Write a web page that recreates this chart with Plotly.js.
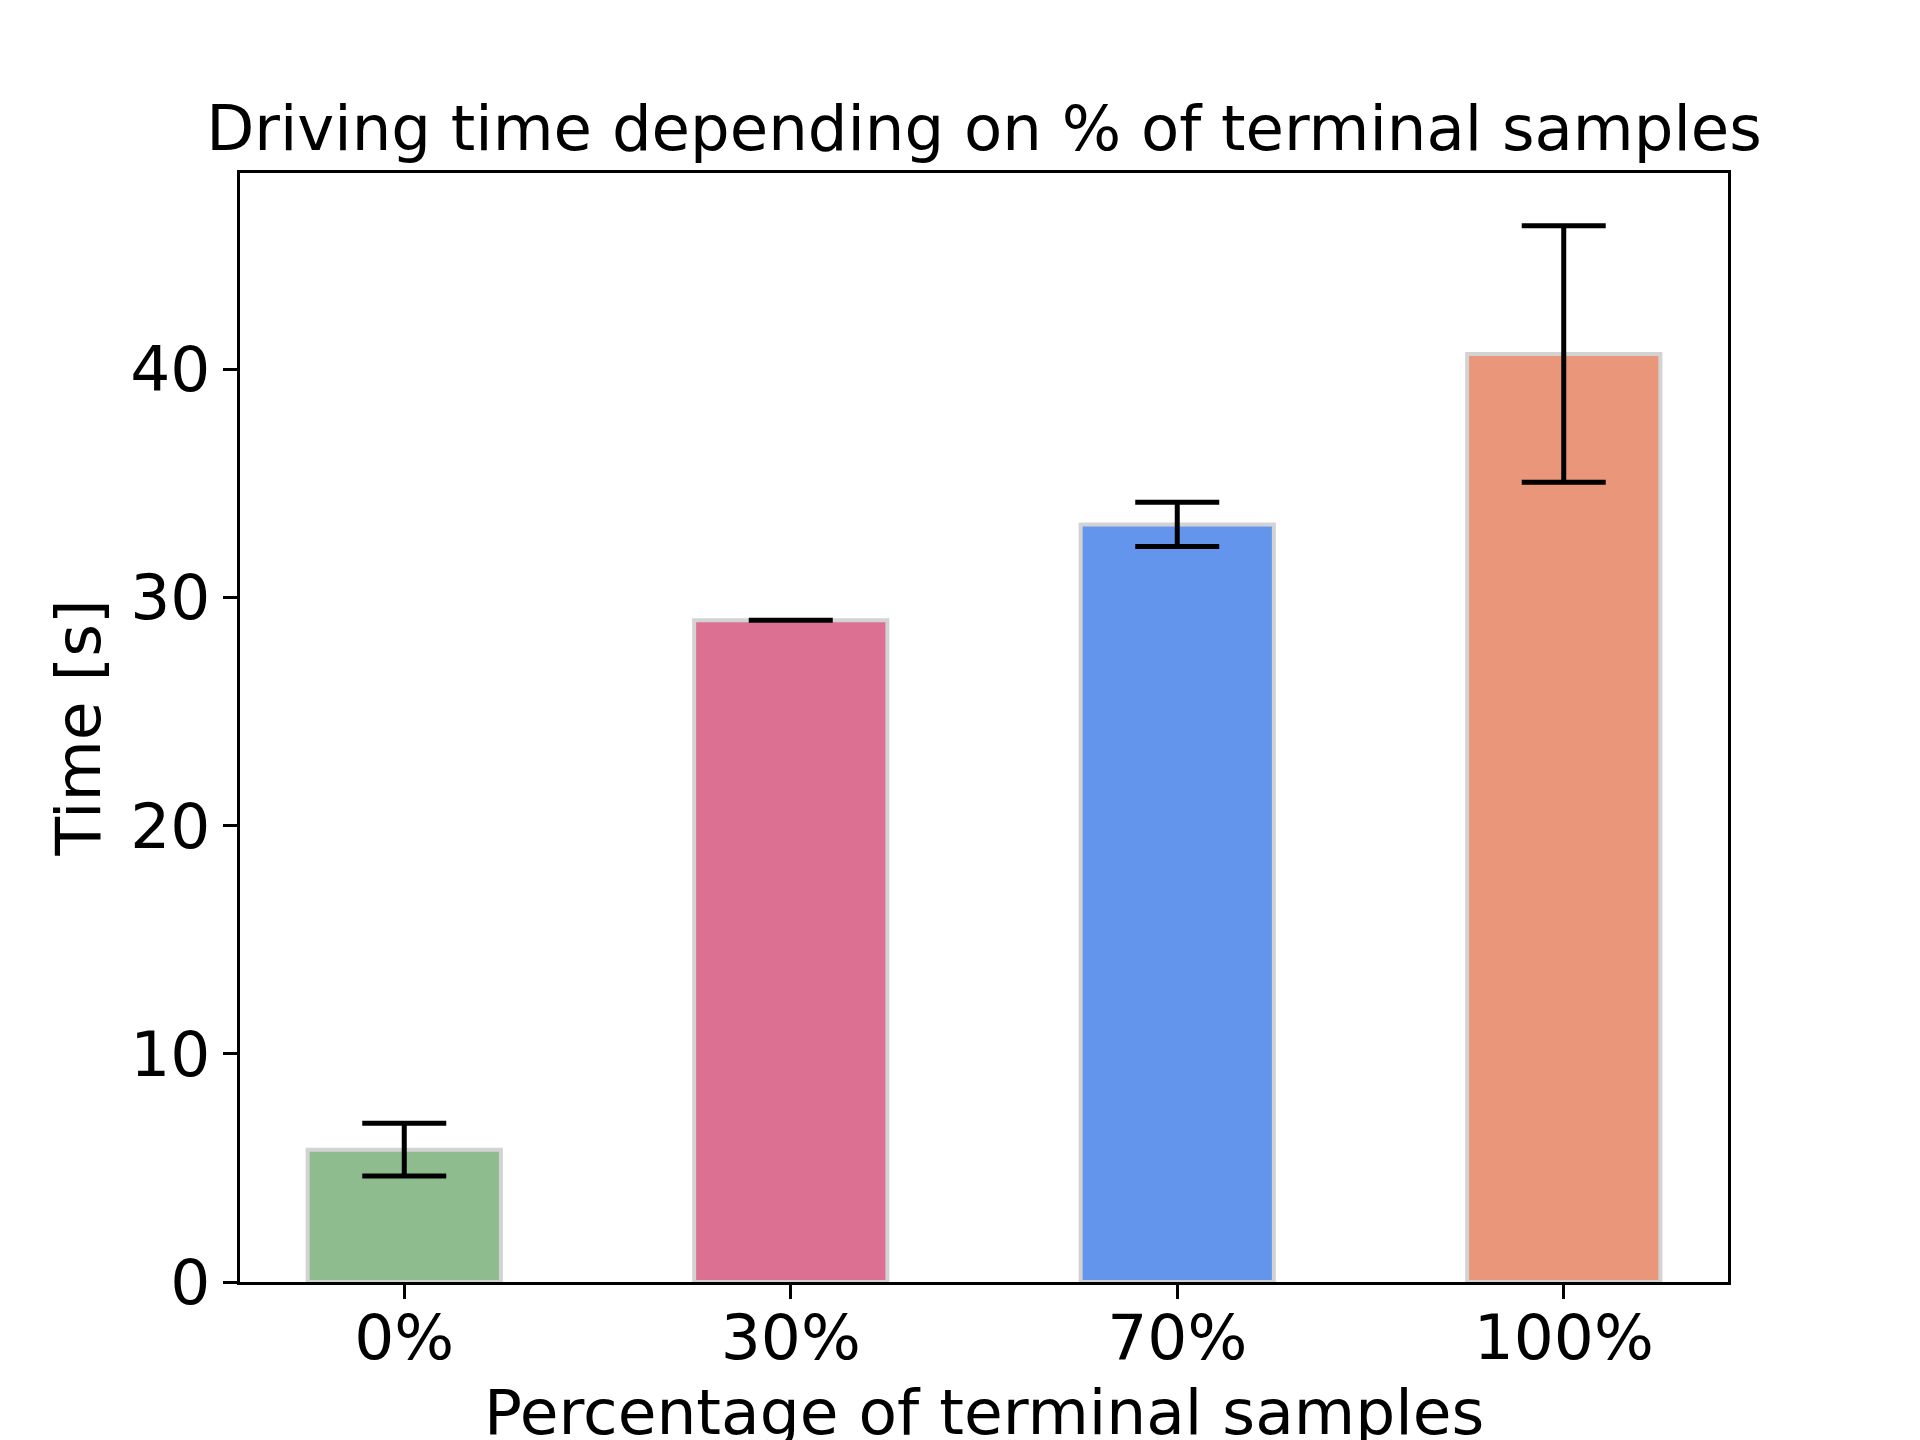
<!DOCTYPE html>
<html>
<head>
<meta charset="utf-8">
<script src="https://cdn.plot.ly/plotly-3.0.1.min.js"></script>
<style>
  body { margin: 0; background: white; }
  #graph { width: 1920px; height: 1440px; }
</style>
</head>
<body>
<div id="graph"></div>
<script>
// values
var categories = ['0%', '30%', '70%', '100%'];
var meanTime = [5.8, 29.0, 33.2, 40.67];
var stdTime = [1.16, 0.0, 0.97, 5.62];
var barColors = ['#8FBC8F', '#DB7093', '#6495ED', '#E9967A'];
var yTicks = [0, 10, 20, 30, 40];

var fontFamily = 'DejaVu Sans, sans-serif';

var trace = {
  x: categories,
  y: meanTime,
  type: 'bar',
  width: 0.5,
  marker: {
    color: barColors,
    line: { color: '#D3D3D3', width: 4 }
  },
  error_y: {
    type: 'data',
    array: stdTime,
    visible: true,
    color: 'black',
    thickness: 5,
    width: 42
  },
  hoverinfo: 'none'
};

var axisCommon = {
  showgrid: false,
  zeroline: false,
  showline: true,
  mirror: true,
  linecolor: 'black',
  linewidth: 3,
  ticks: 'outside',
  ticklen: 14,
  tickwidth: 3,
  tickcolor: 'black',
  tickfont: { family: fontFamily, size: 63, color: 'black' }
};

var layout = {
  width: 1920,
  height: 1440,
  margin: { l: 240, r: 192, t: 173, b: 158 },
  paper_bgcolor: 'white',
  plot_bgcolor: 'white',
  showlegend: false,
  title: {
    text: 'Driving time depending on % of terminal samples',
    font: { family: fontFamily, size: 62.5, color: 'black' },
    x: 0.5,
    xref: 'paper',
    xanchor: 'center',
    y: 1,
    yref: 'paper',
    yanchor: 'bottom',
    pad: { b: 23 }
  },
  xaxis: Object.assign({}, axisCommon, {
    type: 'category',
    range: [-0.425, 3.425],
    ticklabelstandoff: -16
  }),
  yaxis: Object.assign({}, axisCommon, {
    range: [0, 48.6],
    tickvals: yTicks,
    ticktext: yTicks.map(String),
    title: {
      text: 'Time [s]',
      font: { family: fontFamily, size: 63, color: 'black' },
      standoff: 10
    }
  }),
  // x-axis title as an annotation so it can sit partly below the margin like the reference
  annotations: [{
    text: 'Percentage of terminal samples',
    xref: 'paper',
    yref: 'paper',
    x: 0.5,
    y: 0,
    xanchor: 'center',
    yanchor: 'top',
    yshift: -92,
    showarrow: false,
    font: { family: fontFamily, size: 63, color: 'black' }
  }]
};

var config = {
  displayModeBar: false,
  staticPlot: true
};

Plotly.newPlot('graph', [trace], layout, config);
</script>
</body>
</html>
